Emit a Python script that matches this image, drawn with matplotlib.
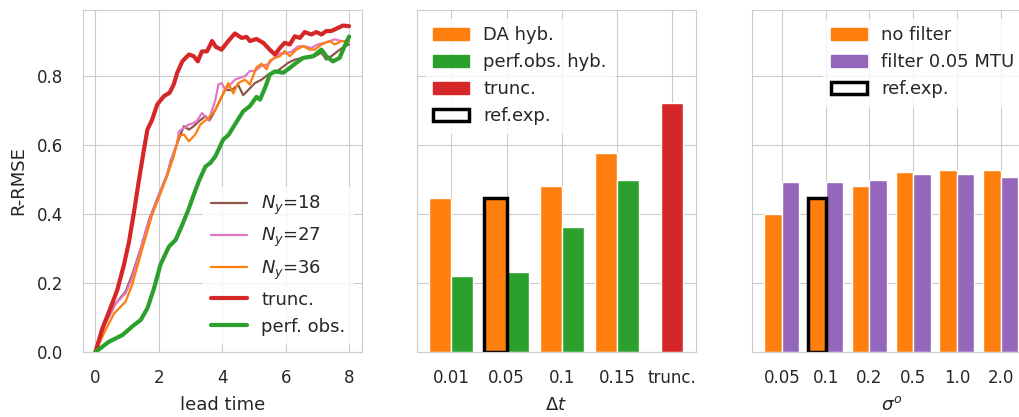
import matplotlib
matplotlib.use("Agg")
import matplotlib.pyplot as plt
from matplotlib.patches import Patch
import seaborn as sns

# lead-time curves
t_red = [0, 0.22, 0.43, 0.69, 0.90, 1.06, 1.22, 1.37, 1.53, 1.64, 1.79, 1.95, 2.16, 2.34, 2.47,
         2.58, 2.74, 2.95, 3.10, 3.23, 3.36, 3.52, 3.68, 3.80, 3.98, 4.19, 4.40, 4.61, 4.77, 4.87,
         5.08, 5.29, 5.50, 5.66, 5.82, 5.97, 6.13, 6.29, 6.45, 6.60, 6.81, 6.97, 7.13, 7.28, 7.44,
         7.60, 7.81, 8.0]
rmse_trunc = [0, 0.069, 0.117, 0.18, 0.253, 0.32, 0.408, 0.497, 0.587, 0.645, 0.674, 0.718, 0.742,
              0.752, 0.776, 0.810, 0.843, 0.863, 0.858, 0.843, 0.872, 0.872, 0.902, 0.885, 0.877,
              0.902, 0.924, 0.911, 0.914, 0.902, 0.908, 0.897, 0.877, 0.863, 0.882, 0.897, 0.892,
              0.916, 0.911, 0.928, 0.921, 0.928, 0.921, 0.931, 0.931, 0.938, 0.947, 0.945]

t_green = [0, 0.43, 0.85, 1.16, 1.43, 1.64, 1.85, 2.05, 2.32, 2.53, 2.74, 2.95, 3.10, 3.26, 3.47,
           3.62, 3.78, 4.03, 4.20, 4.40, 4.66, 4.87, 5.08, 5.19, 5.35, 5.50, 5.66, 5.92, 6.13, 6.34,
           6.55, 6.87, 7.13, 7.28, 7.49, 7.70, 7.86, 8.0]
rmse_perf = [0, 0.03, 0.049, 0.074, 0.093, 0.127, 0.185, 0.253, 0.306, 0.325, 0.369, 0.417, 0.456,
             0.495, 0.538, 0.548, 0.567, 0.616, 0.63, 0.66, 0.698, 0.713, 0.740, 0.732, 0.766, 0.805,
             0.814, 0.81, 0.824, 0.839, 0.853, 0.858, 0.877, 0.858, 0.843, 0.853, 0.887, 0.915]

t_18 = [0, 0.3, 0.64, 0.95, 1.16, 1.43, 1.69, 2.0, 2.26, 2.37, 2.58, 2.79, 2.95, 3.1, 3.26, 3.47,
        3.6, 3.77, 4.09, 4.30, 4.50, 4.66, 4.82, 5.03, 5.24, 5.45, 5.66, 5.87, 6.08, 6.29, 6.50,
        6.71, 6.92, 7.13, 7.28, 7.44, 7.65, 7.86, 8.0]
rmse_18 = [0, 0.08, 0.141, 0.175, 0.224, 0.301, 0.383, 0.456, 0.514, 0.553, 0.606, 0.655, 0.645,
           0.655, 0.669, 0.684, 0.672, 0.70, 0.76, 0.76, 0.775, 0.745, 0.76, 0.78, 0.79, 0.805,
           0.81, 0.824, 0.839, 0.848, 0.853, 0.853, 0.858, 0.868, 0.848, 0.858, 0.873, 0.887, 0.892]

t_27 = [0, 0.3, 0.64, 0.95, 1.16, 1.43, 1.69, 2.0, 2.26, 2.37, 2.58, 2.63, 2.79, 2.95, 3.05, 3.2,
        3.36, 3.5, 3.57, 3.78, 3.88, 3.98, 4.1, 4.40, 4.55, 4.72, 4.87, 5.03, 5.24, 5.45, 5.6, 5.82,
        5.97, 6.18, 6.4, 6.6, 6.81, 7.02, 7.23, 7.55, 7.76, 8.0]
rmse_27 = [0, 0.08, 0.141, 0.17, 0.215, 0.30, 0.38, 0.456, 0.514, 0.55, 0.605, 0.64, 0.65, 0.66,
           0.662, 0.67, 0.693, 0.68, 0.672, 0.73, 0.776, 0.78, 0.76, 0.79, 0.795, 0.80, 0.815,
           0.815, 0.83, 0.835, 0.85, 0.866, 0.866, 0.871, 0.887, 0.887, 0.882, 0.892, 0.897, 0.907,
           0.902, 0.902]

t_36 = [0, 0.3, 0.59, 0.95, 1.16, 1.48, 1.79, 2.0, 2.26, 2.47, 2.63, 2.79, 2.95, 3.15, 3.31, 3.57,
        3.77, 3.98, 4.19, 4.35, 4.50, 4.72, 4.87, 5.08, 5.24, 5.40, 5.50, 5.66, 5.82, 5.97, 6.13,
        6.34, 6.55, 6.76, 6.92, 7.13, 7.39, 7.55, 7.76, 8.0]
rmse_36 = [0, 0.06, 0.112, 0.146, 0.195, 0.30, 0.398, 0.447, 0.51, 0.567, 0.626, 0.631, 0.611,
           0.631, 0.66, 0.679, 0.70, 0.74, 0.78, 0.75, 0.78, 0.79, 0.776, 0.826, 0.836, 0.82, 0.845,
           0.853, 0.858, 0.873, 0.858, 0.877, 0.887, 0.877, 0.877, 0.892, 0.902, 0.892, 0.902, 0.90]

# time step experiment
dt_labels = ["0.01", "0.05", "0.1", "0.15", "trunc."]
da_hyb = [0.448, 0.446, 0.481, 0.578]
perf_hyb = [0.219, 0.231, 0.362, 0.499]
trunc_val = 0.722
dt_ref = 1

# observation error experiment
sig_labels = ["0.05", "0.1", "0.2", "0.5", "1.0", "2.0"]
no_filter = [0.400, 0.447, 0.481, 0.521, 0.528, 0.528]
filtered = [0.494, 0.494, 0.499, 0.515, 0.515, 0.507]
sig_ref = 1

sns.set_style("whitegrid")
plt.rcParams.update({
    "font.family": ["DejaVu Sans"],
    "font.size": 13,
    "axes.labelsize": 13,
    "xtick.labelsize": 12,
    "ytick.labelsize": 12,
    "legend.fontsize": 13,
    "xtick.major.size": 0,
    "ytick.major.size": 0,
    "xtick.major.pad": 12,
    "ytick.major.pad": 14,
})

orange, green, red, purple = "#ff7f0e", "#2ca02c", "#d62728", "#9467bd"
W = 0.4

fig = plt.figure(figsize=(10.19, 4.17), dpi=100)
ax1 = fig.add_axes([0.0812, 0.1559, 0.2738, 0.8201])
ax2 = fig.add_axes([0.4089, 0.1559, 0.2738, 0.8201], sharey=ax1)
ax3 = fig.add_axes([0.7377, 0.1559, 0.2738, 0.8201], sharey=ax1)

# panel 1: lead time
ax1.plot(t_18, rmse_18, color="#8c564b", lw=1.6, label="$N_y$=18")
ax1.plot(t_27, rmse_27, color="#e377c2", lw=1.6, label="$N_y$=27")
ax1.plot(t_36, rmse_36, color=orange, lw=1.6, label="$N_y$=36")
ax1.plot(t_red, rmse_trunc, color=red, lw=3, label="trunc.")
ax1.plot(t_green, rmse_perf, color=green, lw=3, label="perf. obs.")
ax1.set_xlim(-0.4, 8.4)
ax1.set_xticks([0, 2, 4, 6, 8])
ax1.set_ylim(0, 0.992)
ax1.set_yticks([0, 0.2, 0.4, 0.6, 0.8])
ax1.set_xlabel("lead time", labelpad=7)
ax1.set_ylabel("R-RMSE", labelpad=7)
ax1.legend(loc="lower right", framealpha=0.8, edgecolor="white")

# panel 2: time step
x2 = list(range(len(dt_labels)))
ax2.bar([i - W / 2 for i in x2[:4]], da_hyb, W, color=orange, edgecolor="white", lw=1)
ax2.bar([i + W / 2 for i in x2[:4]], perf_hyb, W, color=green, edgecolor="white", lw=1)
ax2.bar(x2[4], trunc_val, W, color=red, edgecolor="white", lw=1)
ax2.bar(dt_ref - W / 2, da_hyb[dt_ref], W, fill=False, edgecolor="black", lw=2.5)
ax2.set_xticks(x2)
ax2.set_xticklabels(dt_labels)
ax2.set_xlabel(r"$\Delta t$", labelpad=7)
ax2.tick_params(axis="y", labelleft=False)
ax2.legend(handles=[Patch(color=orange, label="DA hyb."),
                    Patch(color=green, label="perf.obs. hyb."),
                    Patch(color=red, label="trunc."),
                    Patch(facecolor="white", edgecolor="black", lw=2.5, label="ref.exp.")],
           loc="upper left", framealpha=0.8, edgecolor="white")

# panel 3: observation error
x3 = list(range(len(sig_labels)))
ax3.bar([i - W / 2 for i in x3], no_filter, W, color=orange, edgecolor="white", lw=1)
ax3.bar([i + W / 2 for i in x3], filtered, W, color=purple, edgecolor="white", lw=1)
ax3.bar(sig_ref - W / 2, no_filter[sig_ref], W, fill=False, edgecolor="black", lw=2.5)
ax3.set_xticks(x3)
ax3.set_xticklabels(sig_labels)
ax3.set_xlabel(r"$\sigma^o$", labelpad=7)
ax3.tick_params(axis="y", labelleft=False)
ax3.legend(handles=[Patch(color=orange, label="no filter"),
                    Patch(color=purple, label="filter 0.05 MTU"),
                    Patch(facecolor="white", edgecolor="black", lw=2.5, label="ref.exp.")],
           loc="upper right", framealpha=0.8, edgecolor="white")

fig.savefig("out.png", dpi=100)
